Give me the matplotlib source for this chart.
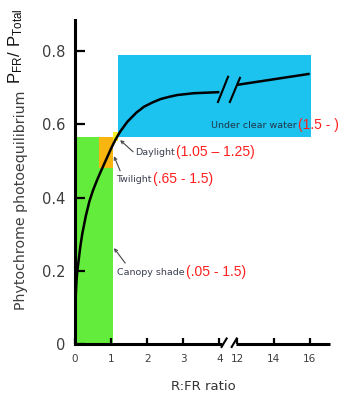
import numpy as np
import matplotlib
matplotlib.use("Agg")
import matplotlib.pyplot as plt

# ---------------- data ----------------
# response curve (left part, R:FR 0-4)
curve_x_left = [0, 0.003, 0.008, 0.015, 0.025, 0.04, 0.06, 0.08, 0.1, 0.15, 0.2, 0.3, 0.4,
                0.5, 0.6, 0.7, 0.8, 0.9, 1.0, 1.12, 1.25, 1.45, 1.7, 1.91, 2.15, 2.37,
                2.6, 2.83, 3.29, 4.0]
curve_y_left = [0, 0.04, 0.075, 0.11, 0.14, 0.17, 0.195, 0.212, 0.228, 0.268, 0.300,
                0.350, 0.390, 0.420, 0.445, 0.468, 0.490, 0.512, 0.534, 0.558, 0.580,
                0.607, 0.632, 0.648, 0.660, 0.669, 0.675, 0.680, 0.685, 0.688]
# right part after the axis break (R:FR 12-16)
curve_x_right = [12, 14, 16]
curve_y_right = [0.708, 0.723, 0.738]

# shaded ranges: (x0, x1, y0, y1)
region_names = ["Canopy shade", "Twilight", "Daylight", "Under clear water"]
region_x0 = [0.0, 0.67, 1.05, 1.2]
region_x1 = [1.05, 1.05, 1.2, 16.05]
region_y0 = [0.0, 0.48, 0.555, 0.565]
region_y1 = [0.565, 0.565, 0.58, 0.79]
region_colors = ["#63ec3b", "#f9b50f", "#f2f224", "#1cc3ee"]

range_labels = ["(.05 - 1.5)", "(.65 - 1.5)", "(1.05 \u2013 1.25)", "(1.5 - )"]

x_ticks = [0, 1, 2, 3, 4, 12, 14, 16]
x_tick_labels = ["0", "1", "2", "3", "4", "12", "14", "16"]
y_ticks = [0, 0.2, 0.4, 0.6, 0.8]
y_tick_labels = ["0", "0.2", "0.4", "0.6", "0.8"]


# ---------------- broken x scale ----------------
def fwd(x):
    x = np.asarray(x, dtype=float)
    return np.where(x <= 4, x, np.where(x >= 12, 4.5 + (x - 12) / 2.0, 4 + (x - 4) / 16.0))


def inv(p):
    p = np.asarray(p, dtype=float)
    return np.where(p <= 4, p, np.where(p >= 4.5, 12 + (p - 4.5) * 2.0, 4 + (p - 4) * 16.0))


W, H = 345, 397
fig = plt.figure(figsize=(W / 100, H / 100), dpi=100)
ax = fig.add_axes([75 / W, 53 / H, 254.5 / W, 324 / H])
ax.set_xscale("function", functions=(fwd, inv))
ax.set_xlim(0, 17.1)
ax.set_ylim(0, 0.885)

# regions
for i in range(len(region_names)):
    ax.fill_between([region_x0[i], region_x1[i]], region_y0[i], region_y1[i],
                    color=region_colors[i], lw=0, zorder=1)

# curve
ax.plot(curve_x_left, curve_y_left, color="black", lw=1.8, zorder=3,
        solid_capstyle="butt", solid_joinstyle="round")
ax.plot(curve_x_right, curve_y_right, color="black", lw=1.8, zorder=3,
        solid_capstyle="butt")

# transform in scaled ("plot") coordinates for break decorations
tr = ax.transLimits + ax.transAxes
for (xa, ya, xb, yb) in [(3.96, 0.661, 4.24, 0.73), (4.29, 0.661, 4.57, 0.727)]:
    ax.plot([xa, xb], [ya, yb], color="black", lw=1.5, transform=tr, zorder=4)

# spines
for s in ["top", "right", "bottom"]:
    ax.spines[s].set_visible(False)
ax.spines["left"].set_linewidth(2.2)
ax.plot([0, 4.08], [0, 0], color="black", lw=2.2, transform=tr, clip_on=False,
        solid_capstyle="butt", zorder=5)
ax.plot([4.46, 7.05], [0, 0], color="black", lw=2.2, transform=tr, clip_on=False,
        solid_capstyle="butt", zorder=5)
for (xa, xb) in [(4.06, 4.2), (4.34, 4.48)]:
    ax.plot([xa, xb], [-0.008, 0.015], color="black", lw=1.5, transform=tr,
            clip_on=False, zorder=5)

# ticks
ax.set_xticks(x_ticks)
ax.set_xticklabels(x_tick_labels)
ax.set_yticks(y_ticks)
ax.set_yticklabels(y_tick_labels)
ax.xaxis.set_minor_locator(matplotlib.ticker.NullLocator())
ax.tick_params(axis="y", direction="in", length=7.5, width=1.6, pad=7,
               labelsize=10.5, labelcolor="#3d3d3d")
ax.tick_params(axis="x", direction="in", length=4, width=1.6, pad=7,
               labelsize=7.5, labelcolor="#3d3d3d")

# annotations
label_pos = [(1.16, 0.194), (1.14, 0.448), (1.66, 0.522), (3.77, 0.596)]
arrows = [((1.08, 0.262), (1.39, 0.221)),
          ((1.08, 0.513), (1.25, 0.473)),
          ((1.25, 0.557), (1.61, 0.525)),
          None]
gray_cols = ["#3a3f4f", "#3a3f4f", "#3a3f4f", "#22344a"]
for i in range(4):
    t = ax.text(label_pos[i][0], label_pos[i][1], region_names[i], fontsize=6.8,
                color=gray_cols[i], ha="left", va="center", zorder=6)
    ax.annotate(range_labels[i], xy=(1, 0.5), xycoords=t, xytext=(1, 0.5),
                textcoords="offset points", ha="left", va="center",
                fontsize=10, color="#ff1f1f", family="Liberation Sans",
                annotation_clip=False, zorder=6)
    if arrows[i] is not None:
        head, tail = arrows[i]
        ax.annotate("", xy=head, xytext=tail,
                    arrowprops=dict(arrowstyle="->", color="#444444", lw=0.8,
                                    mutation_scale=5, shrinkA=0, shrinkB=0),
                    zorder=6)

# axis titles
fig.text(203 / W, 1 - 387 / H, "R:FR ratio", ha="center", va="center",
         fontsize=9.5, color="#333333")
fig.text(24.5 / W, 1 - 310 / H, "Phytochrome photoequilibrium", rotation=90,
         rotation_mode="anchor", ha="left", va="baseline", fontsize=10.2,
         color="#3d3d3d")
fig.text(20 / W, 1 - 84 / H, r"$\mathregular{P_{FR}/\ P_{Total}}$", rotation=90,
         rotation_mode="anchor", ha="left", va="baseline", fontsize=12,
         color="#111111", family="Liberation Sans")

fig.savefig("out.png", dpi=100)
